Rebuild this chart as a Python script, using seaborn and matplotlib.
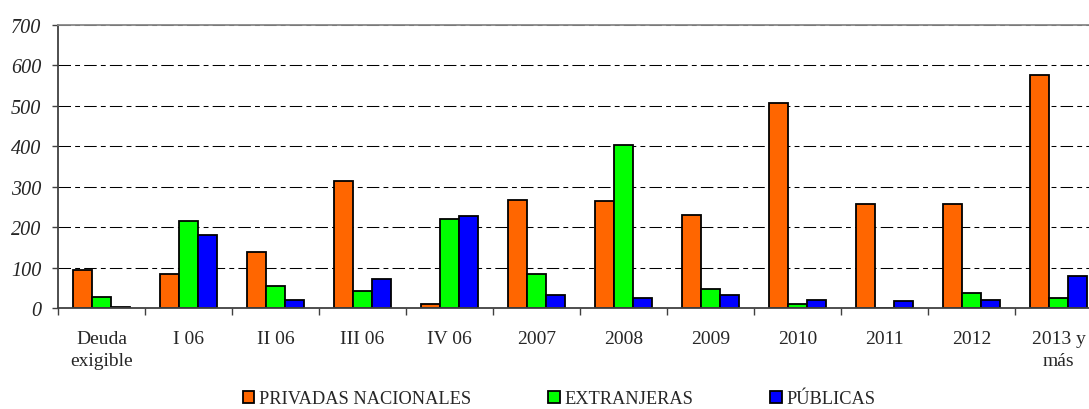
import pandas as pd
import numpy as np
import matplotlib
matplotlib.use("Agg")
import matplotlib.pyplot as plt
import seaborn as sns
from matplotlib.ticker import MultipleLocator, FixedLocator

# values
categories = ["Deuda\nexigible", "I 06", "II 06", "III 06", "IV 06", "2007",
              "2008", "2009", "2010", "2011", "2012", "2013 y\nmás"]
privadas = [93, 85, 138, 315, 10, 266, 265, 229, 508, 258, 258, 576]
extranjeras = [28, 216, 55, 42, 219, 83, 403, 48, 10, 1, 36, 25]
publicas = [3, 181, 20, 71, 228, 31, 25, 31, 21, 18, 21, 79]
series_names = ["PRIVADAS NACIONALES", "EXTRANJERAS", "PÚBLICAS"]
colors = ["#FF6600", "#00FF00", "#0000FF"]

df = pd.DataFrame({"cat": categories * 3,
                   "serie": np.repeat(series_names, len(categories)),
                   "valor": privadas + extranjeras + publicas})

sns.set_style("white")
plt.rcParams["font.family"] = ["Liberation Serif", "DejaVu Serif"]
plt.rcParams["lines.scale_dashes"] = False

fig = plt.figure(figsize=(10.89, 4.10), dpi=100)
W, H = 1089, 410
ax = fig.add_axes([58 / W, (H - 309) / H, (1102 - 58) / W, (309 - 26) / H])

sns.barplot(data=df, x="cat", y="valor", hue="serie", order=categories,
            hue_order=series_names, palette=dict(zip(series_names, colors)),
            width=0.66, gap=0, edgecolor="black", linewidth=1.3,
            saturation=1, errorbar=None, ax=ax)

ax.set_ylim(0, 700)
ax.set_xlim(-0.5, len(categories) - 0.5)
ax.yaxis.set_major_locator(MultipleLocator(100))
ax.set_xlabel("")
ax.set_ylabel("")

# dashed horizontal grid, skip the 0 and 700 lines
ax.set_axisbelow(True)
ax.yaxis.grid(True, color="black", linewidth=0.75, linestyle=(0, (9, 3, 3.5, 3)))
glines = ax.get_ygridlines()
glines[0].set_visible(False)
glines[-1].set_visible(False)

for side in ["left", "bottom"]:
    ax.spines[side].set_color("#404040")
    ax.spines[side].set_linewidth(1.3)
ax.spines["top"].set_color("#888888")
ax.spines["top"].set_linewidth(1.3)
ax.spines["right"].set_visible(False)

ax.tick_params(axis="y", direction="out", length=4, width=1, color="#404040",
               pad=8, labelsize=14.5, left=True)
for lab in ax.get_yticklabels():
    lab.set_fontstyle("italic")

ax.xaxis.set_minor_locator(FixedLocator(np.arange(-0.5, len(categories), 1)))
ax.tick_params(axis="x", which="major", length=0, pad=16, labelsize=14)
ax.tick_params(axis="x", which="minor", direction="out", length=5, width=1,
               color="#404040", bottom=True)
for lab in ax.get_xticklabels():
    lab.set_linespacing(1.4)

handles, labels = ax.get_legend_handles_labels()
ax.get_legend().remove()
fig.legend(handles, labels, loc="center", bbox_to_anchor=(559 / W, 1 - 400 / H),
           ncol=3, frameon=False, fontsize=13.2, handlelength=0.63,
           handleheight=0.63, handletextpad=0.25, columnspacing=4.2,
           borderaxespad=0, borderpad=0)

fig.savefig("out.png", dpi=100)
